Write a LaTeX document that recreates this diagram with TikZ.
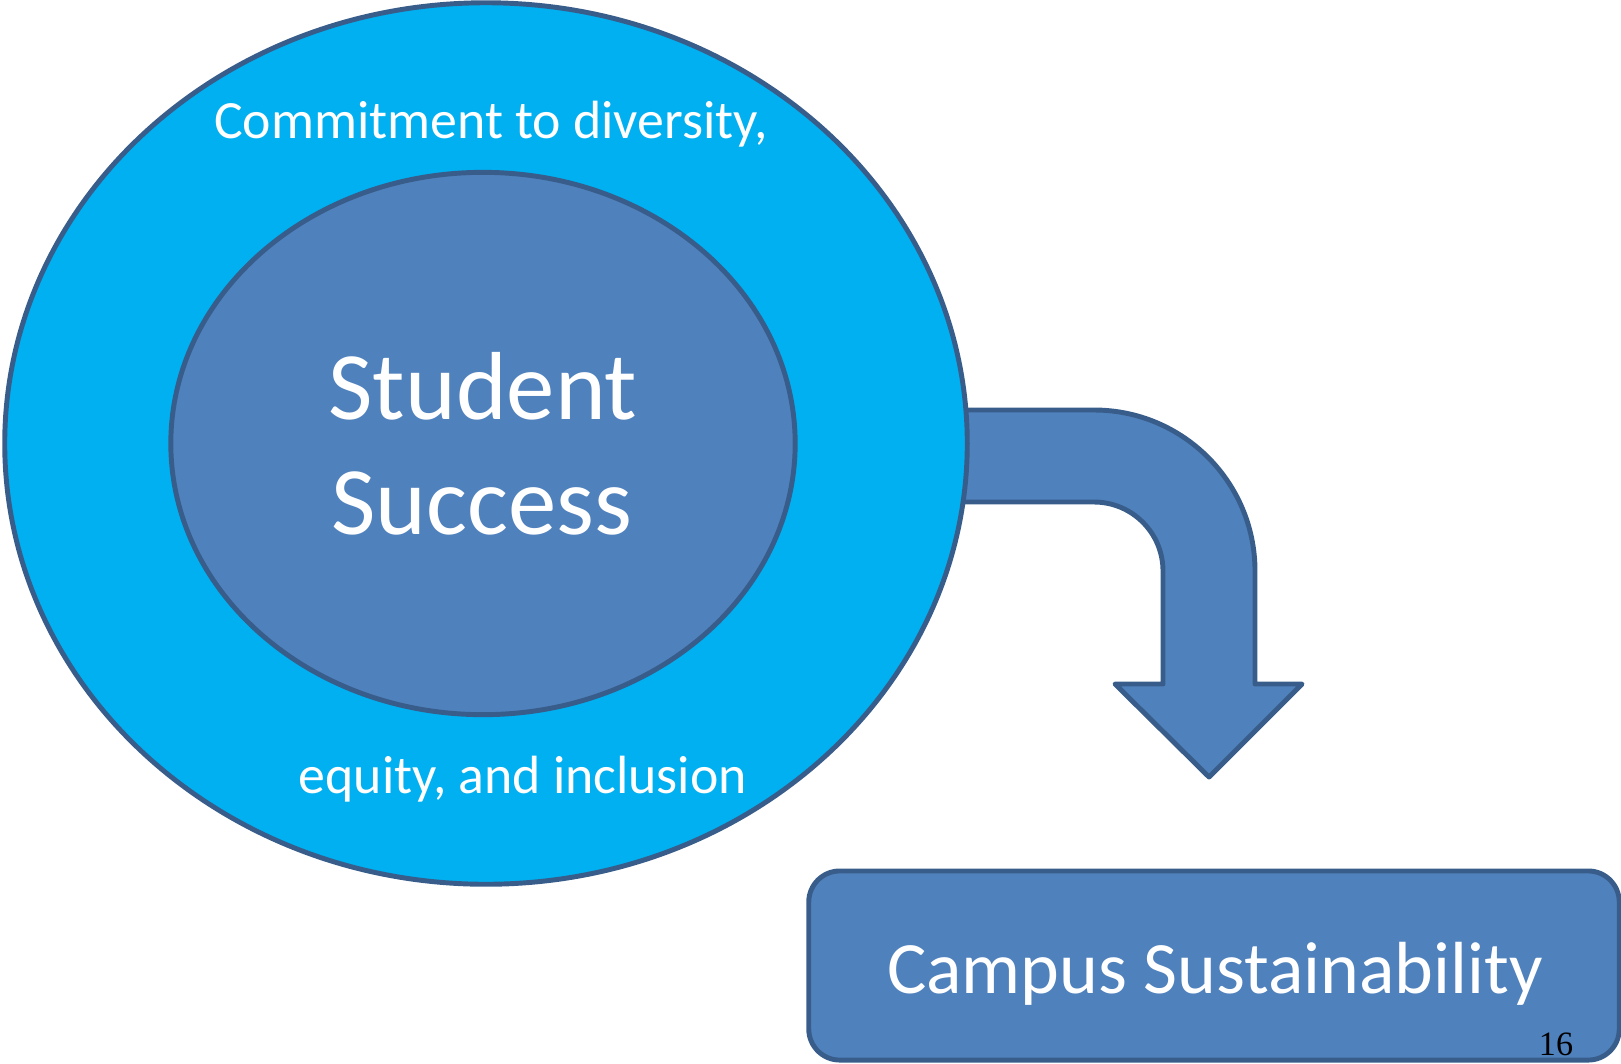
\documentclass[tikz,border=0pt]{standalone}
\usepackage{fontspec}
\setmainfont{Carlito}
\newfontfamily\pagefont{Liberation Serif}
\usetikzlibrary{shapes.geometric}
\definecolor{ringblue}{HTML}{00B0F0}
\definecolor{coreblue}{HTML}{4F81BD}
\definecolor{edgeblue}{HTML}{385D8A}
\tikzset{
    shape outline/.style={
        draw=edgeblue,
        line width=1.4pt,
        inner sep=0pt,
        outer sep=0pt
    },
    ring/.style={
        shape outline,
        ellipse,
        fill=ringblue
    },
    core/.style={
        shape outline,
        ellipse,
        fill=coreblue
    },
    label text/.style={
        text=white,
        anchor=base,
        inner sep=0pt
    }
}

\begin{document}
\begin{tikzpicture}[x=0.01cm, y=-0.01cm]
                \useasboundingbox (0, 0) rectangle (1621, 1063);

                % bent arrow, its tail runs in under the ring
                % (y points down, so angle -90 is straight up)
                \coordinate (A1) at (900, 410);
                \coordinate (A2) at (1094, 410);
                \coordinate (A4) at (1255, 684);
                \coordinate (A5) at (1302, 684);
                \coordinate (A6) at (1209, 777);
                \coordinate (A7) at (1115, 684);
                \coordinate (A8) at (1163, 684);
                \coordinate (A9) at (1163, 571);
                \coordinate (A10) at (1094, 502);
                \coordinate (A11) at (900, 502);
                \filldraw [fill=coreblue, draw=edgeblue, line width=1.4pt, line join=round]
                (A1) -- (A2) arc [start angle=-90, end angle=0, radius=161]
                -- (A4) -- (A5) -- (A6) -- (A7) -- (A8) -- (A9)
                arc [start angle=0, end angle=-90, radius=69] -- (A10) -- (A11);

                % the two ellipses
                \node [ring, minimum width=9.62cm, minimum height=8.81cm] (ring) at (486, 443.5) {};
                \node [core, minimum width=6.24cm, minimum height=5.42cm] (core) at (483, 443.5) {};

                \node [label text, font=\fontsize{15.3}{18}\selectfont] (diversity) at (491, 138.5) {Commitment to diversity,};
                \node [label text, font=\fontsize{15.3}{18}\selectfont] (inclusion) at (523, 793) {equity, and inclusion};
                \node [label text, font=\fontsize{27.5}{33}\selectfont] (student) at (483, 419) {Student};
                \node [label text, font=\fontsize{27.5}{33}\selectfont] (success) at (482, 534) {Success};

                % target box
                \node [shape outline, fill=coreblue, rounded corners=0.31cm,
                    minimum width=8.10cm, minimum height=1.89cm] (campus) at (1214, 965.5) {};
                \node [label text, font=\fontsize{21}{25}\selectfont] (campuslabel) at (1215, 993) {Campus Sustainability};

                \node [anchor=base, inner sep=0pt, font=\pagefont\fontsize{9.7}{12}\selectfont] (pageno) at (1556, 1055) {16};
            \end{tikzpicture}
\end{document}
